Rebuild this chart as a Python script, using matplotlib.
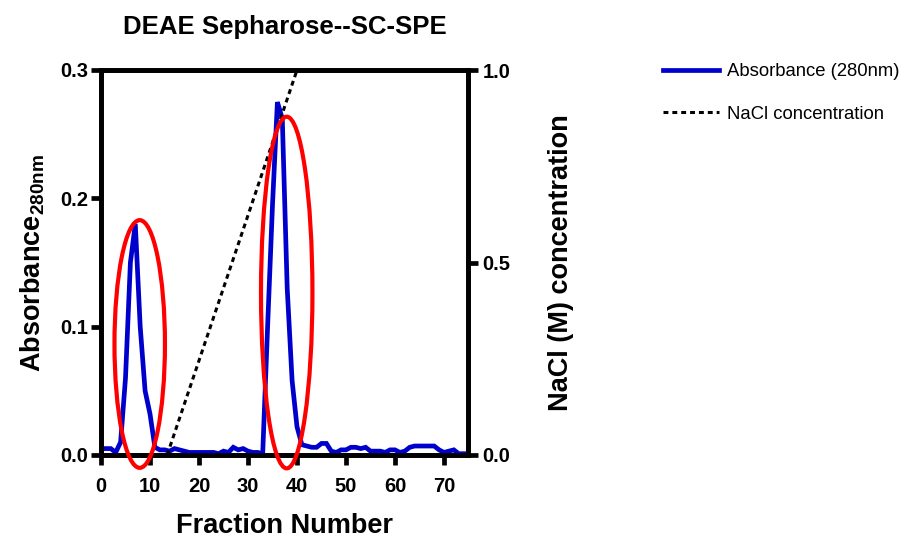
import matplotlib
matplotlib.use("Agg")
import matplotlib.pyplot as plt
from matplotlib.patches import Ellipse

plt.rcParams['font.family'] = ['Liberation Sans', 'DejaVu Sans']
plt.rcParams['mathtext.fontset'] = 'custom'
plt.rcParams['mathtext.rm'] = 'Liberation Sans:bold'
plt.rcParams['mathtext.bf'] = 'Liberation Sans:bold'

# ---- data ----
fraction = list(range(0, 75))
absorbance = [
    0.005, 0.005, 0.005, 0.002, 0.010, 0.060, 0.150, 0.180, 0.100, 0.050,
    0.032, 0.006, 0.004, 0.004, 0.003, 0.005, 0.004, 0.003, 0.002, 0.002,
    0.002, 0.002, 0.002, 0.002, 0.001, 0.003, 0.002, 0.006, 0.004, 0.005,
    0.003, 0.002, 0.002, 0.001, 0.100, 0.195, 0.275, 0.262, 0.130, 0.058,
    0.022, 0.008, 0.007, 0.006, 0.006, 0.009, 0.009, 0.003, 0.002, 0.004,
    0.004, 0.006, 0.006, 0.005, 0.006, 0.003, 0.003, 0.003, 0.002, 0.004,
    0.004, 0.002, 0.003, 0.006, 0.007, 0.007, 0.007, 0.007, 0.007, 0.004,
    0.002, 0.003, 0.004, 0.001, 0.001,
]
nacl_fraction = [13.5, 40.0]
nacl_conc = [0.0, 1.0]

# annotation ellipses (absorbance-axis data units): centre x, centre y, width, height
ellipse_cx = [7.9, 37.9]
ellipse_cy = [0.0865, 0.1266]
ellipse_w = [10.3, 10.5]
ellipse_h = [0.193, 0.274]

title = "DEAE Sepharose--SC-SPE"
xlabel = "Fraction Number"
ylabel_left = r"Absorbance$_{\mathbf{280nm}}$"
ylabel_right = "NaCl (M) concentration"
legend_labels = ["Absorbance (280nm)", "NaCl concentration"]

# ---- figure ----
fig = plt.figure(figsize=(9.11, 5.39), dpi=100)
ax = fig.add_axes([101 / 911, 1 - 455 / 539, 367.5 / 911, 385 / 539])
ax2 = ax.twinx()

blue = '#0000CC'
l1, = ax.plot(fraction, absorbance, color=blue, lw=3.4, solid_joinstyle='miter', zorder=3)
l2, = ax2.plot(nacl_fraction, nacl_conc, color='black', lw=2.2, linestyle=(0, (1.6, 1.3)), zorder=2)

ax.set_xlim(0, 75)
ax.set_ylim(0, 0.3)
ax2.set_ylim(0, 1.0)
ax.set_xticks([0, 10, 20, 30, 40, 50, 60, 70])
ax.set_yticks([0.0, 0.1, 0.2, 0.3])
ax.set_yticklabels(['0.0', '0.1', '0.2', '0.3'])
ax2.set_yticks([0.0, 0.5, 1.0])
ax2.set_yticklabels(['0.0', '0.5', '1.0'])

for a in (ax, ax2):
    for s in a.spines.values():
        s.set_linewidth(3.4)
        s.set_capstyle('projecting')
ax.tick_params(axis='both', direction='out', length=7, width=3.4, labelsize=14.5, pad=2)
ax.tick_params(axis='x', pad=9)
ax2.tick_params(axis='y', direction='out', length=7, width=3.4, labelsize=14.5, pad=3)
for lab in ax.get_xticklabels() + ax.get_yticklabels() + ax2.get_yticklabels():
    lab.set_fontweight('bold')

ax.set_xlabel(xlabel, fontsize=19.5, fontweight='bold', labelpad=12)
ax.set_ylabel(ylabel_left, fontsize=19.5, fontweight='bold', labelpad=10)
ax2.set_ylabel(ylabel_right, fontsize=19.5, fontweight='bold', labelpad=27)
ax.set_title(title, fontsize=18.5, fontweight='bold', pad=26)

for cx, cy, w, h in zip(ellipse_cx, ellipse_cy, ellipse_w, ellipse_h):
    e = Ellipse((cx, cy), w, h, transform=ax.transData, fill=False,
                edgecolor='#FF0000', lw=3.0, clip_on=False, zorder=5)
    ax2.add_patch(e)

fig.legend([l1, l2], legend_labels, loc='upper left', bbox_to_anchor=(0.728, 0.883),
           frameon=False, fontsize=13.3, handlelength=3.0, handletextpad=0.45,
           labelspacing=1.4, borderaxespad=0, borderpad=0)

fig.savefig('out.png', dpi=100)
